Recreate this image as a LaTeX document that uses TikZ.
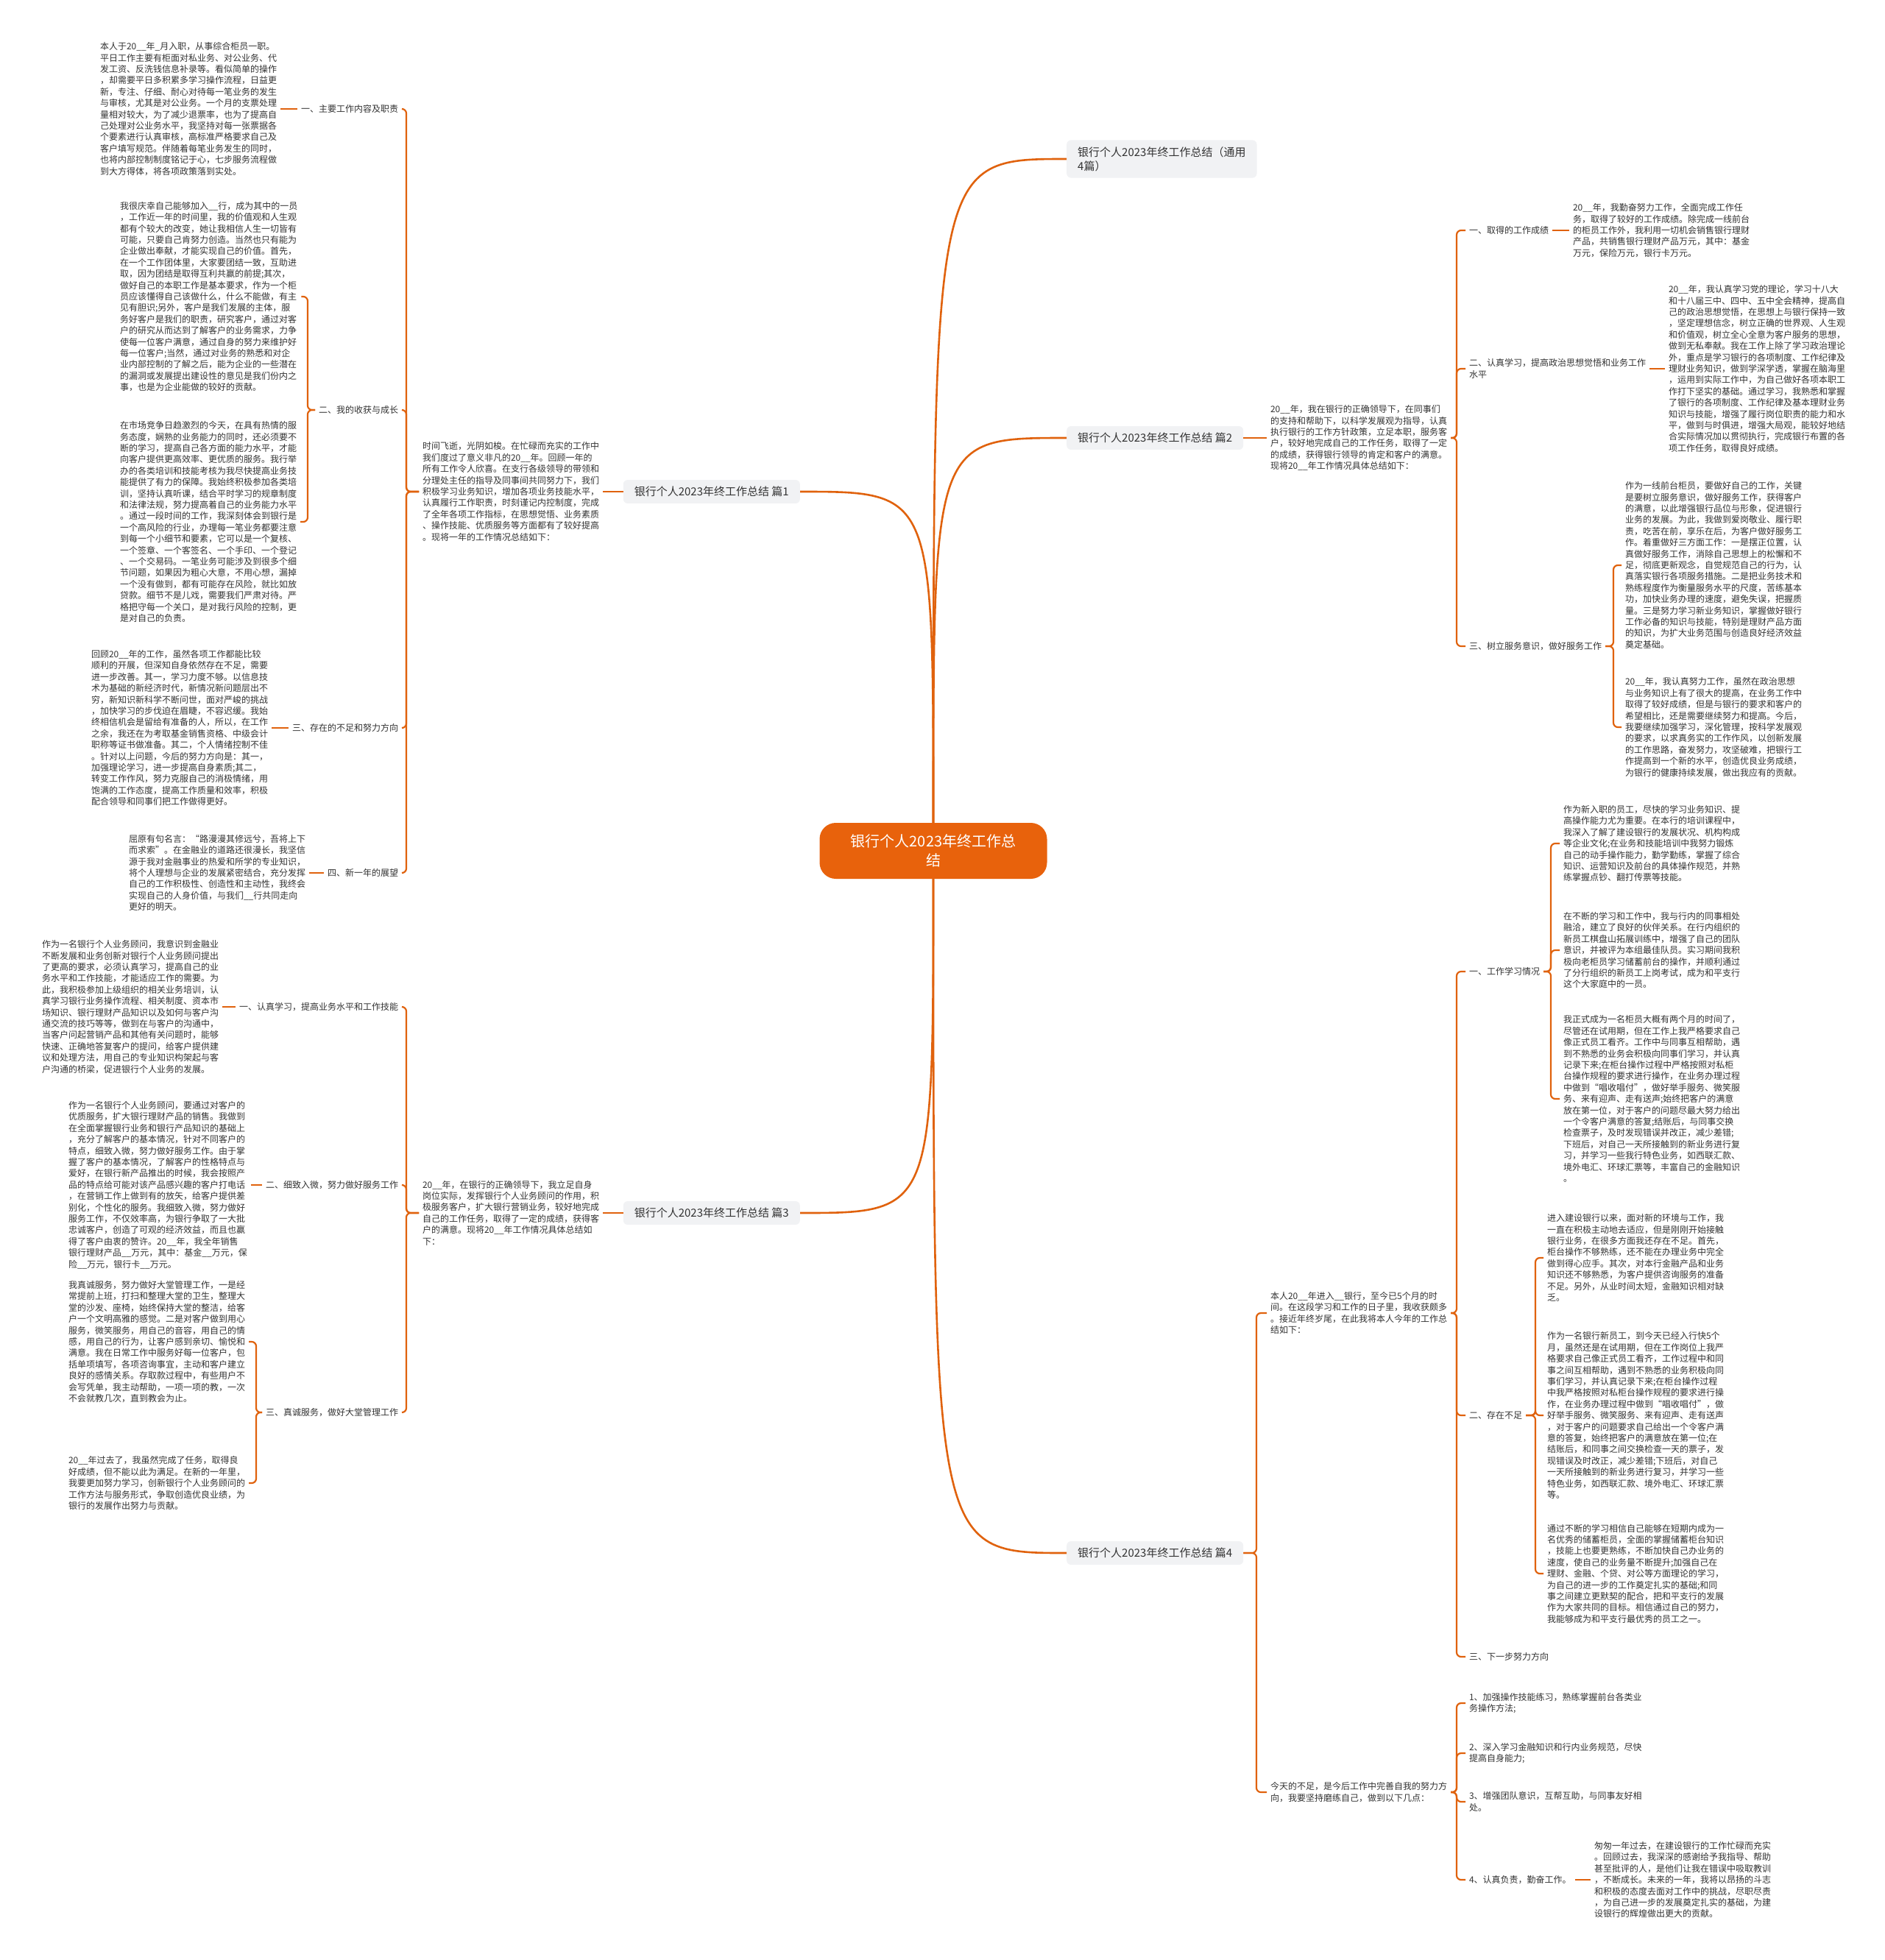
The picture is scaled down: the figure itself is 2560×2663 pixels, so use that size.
\documentclass[tikz,border=0pt]{standalone}
\usepackage{fontspec}
\setmainfont{Noto Sans CJK SC}
\definecolor{mmorange}{HTML}{E0620D}
\definecolor{mmroot}{HTML}{E8620C}
\definecolor{mmgray}{HTML}{F1F2F4}
\definecolor{mmtext}{HTML}{333333}
\begin{document}
\begin{tikzpicture}[x=1pt,y=-1pt,
  txt/.style={anchor=west,inner sep=0pt,outer xsep=5pt,align=left,text=mmtext,font=\fontsize{12}{15.4}\selectfont},
  lbl/.style={inner sep=0pt,outer xsep=5pt,align=left,text=mmtext,font=\fontsize{12}{15.4}\selectfont},
  topic/.style={fill=mmgray,rounded corners=6pt,inner xsep=15pt,inner ysep=9pt,align=left,text=mmtext,font=\fontsize{15}{19}\selectfont},
  rootbox/.style={fill=mmroot,rounded corners=22pt,minimum width=309pt,minimum height=76pt,align=center,text=white,font=\fontsize{20}{26}\selectfont},
  link/.style={draw=mmorange,line width=2.2pt,rounded corners=6pt},
  trunk/.style={draw=mmorange,line width=2.6pt}]
\fill[white] (0,0) rectangle (2560,2663);
\useasboundingbox (0,0) rectangle (2560,2663);

% centre and the five topics
\node[rootbox] (root) at (1268,1156) {银行个人2023年终工作总\\结};
\node[topic,anchor=west] (p0) at (1449,216) {银行个人2023年终工作总结（通用\\4篇）};
\node[topic,anchor=east] (p1) at (1087,668) {银行个人2023年终工作总结 篇1};
\node[topic,anchor=west] (p2) at (1449,595) {银行个人2023年终工作总结 篇2};
\node[topic,anchor=east] (p3) at (1087,1648) {银行个人2023年终工作总结 篇3};
\node[topic,anchor=west] (p4) at (1449,2110) {银行个人2023年终工作总结 篇4};

\draw[trunk] (root.north) .. controls (root.north |- p0.west) .. (p0.west);
\draw[trunk] (root.north) .. controls (root.north |- p1.east) .. (p1.east);
\draw[trunk] (root.north) .. controls (root.north |- p2.west) .. (p2.west);
\draw[trunk] (root.south) .. controls (root.south |- p3.east) .. (p3.east);
\draw[trunk] (root.south) .. controls (root.south |- p4.west) .. (p4.west);

% ---- 篇1
\node[txt] (c1) at (569,668) {时间飞逝，光阴如梭。在忙碌而充实的工作中\\
我们度过了意义非凡的20\_\_年。回顾一年的\\
所有工作令人欣喜。在支行各级领导的带领和\\
分理处主任的指导及同事间共同努力下，我们\\
积极学习业务知识，增加各项业务技能水平，\\
认真履行工作职责，时刻谨记内控制度，完成\\
了全年各项工作指标，在思想觉悟、业务素质\\
、操作技能、优质服务等方面都有了较好提高\\
。现将一年的工作情况总结如下：};
\draw[link] (p1.west) -- (c1.east);
\coordinate (s1) at (552,668);
\node[lbl,anchor=east] (l11) at (546,148) {一、主要工作内容及职责};
\node[lbl,anchor=east] (l12) at (546,557) {二、我的收获与成长};
\node[lbl,anchor=east] (l13) at (546,989) {三、存在的不足和努力方向};
\node[lbl,anchor=east] (l14) at (546,1186) {四、新一年的展望};
\draw[link] (c1.west) -- (s1) |- (l11.east);
\draw[link] (c1.west) -- (s1) |- (l12.east);
\draw[link] (c1.west) -- (s1) |- (l13.east);
\draw[link] (c1.west) -- (s1) |- (l14.east);

\node[txt] (b11) at (131,148) {本人于20\_\_年\_月入职，从事综合柜员一职。\\
平日工作主要有柜面对私业务、对公业务、代\\
发工资、反洗钱信息补录等。看似简单的操作\\
，却需要平日多积累多学习操作流程，日益更\\
新，专注、仔细、耐心对待每一笔业务的发生\\
与审核，尤其是对公业务。一个月的支票处理\\
量相对较大，为了减少退票率，也为了提高自\\
己处理对公业务水平，我坚持对每一张票据各\\
个要素进行认真审核，高标准严格要求自己及\\
客户填写规范。伴随着每笔业务发生的同时，\\
也将内部控制制度铭记于心，七步服务流程做\\
到大方得体，将各项政策落到实处。};
\draw[link] (b11.east) -- (l11.west);

\node[txt] (b12) at (158,403) {我很庆幸自己能够加入\_\_行，成为其中的一员\\
，工作近一年的时间里，我的价值观和人生观\\
都有个较大的改变，她让我相信人生一切皆有\\
可能，只要自己肯努力创造。当然也只有能为\\
企业做出奉献，才能实现自己的价值。首先，\\
在一个工作团体里，大家要团结一致，互助进\\
取，因为团结是取得互利共赢的前提;其次，\\
做好自己的本职工作是基本要求，作为一个柜\\
员应该懂得自己该做什么，什么不能做，有主\\
见有胆识;另外，客户是我们发展的主体，服\\
务好客户是我们的职责，研究客户，通过对客\\
户的研究从而达到了解客户的业务需求，力争\\
使每一位客户满意，通过自身的努力来维护好\\
每一位客户;当然，通过对业务的熟悉和对企\\
业内部控制的了解之后，能为企业的一些潜在\\
的漏洞或发展提出建设性的意见是我们份内之\\
事，也是为企业能做的较好的贡献。};
\node[txt] (b13) at (158,709) {在市场竞争日趋激烈的今天，在具有热情的服\\
务态度，娴熟的业务能力的同时，还必须要不\\
断的学习，提高自己各方面的能力水平，才能\\
向客户提供更高效率、更优质的服务。我行举\\
办的各类培训和技能考核为我尽快提高业务技\\
能提供了有力的保障。我始终积极参加各类培\\
训，坚持认真听课，结合平时学习的规章制度\\
和法律法规，努力提高着自己的业务能力水平\\
。通过一段时间的工作，我深刻体会到银行是\\
一个高风险的行业，办理每一笔业务都要注意\\
到每一个小细节和要素，它可以是一个复核、\\
一个签章、一个客签名、一个手印、一个登记\\
、一个交易码。一笔业务可能涉及到很多个细\\
节问题，如果因为粗心大意，不用心想，漏掉\\
一个没有做到，都有可能存在风险，就比如放\\
贷款。细节不是儿戏，需要我们严肃对待。严\\
格把守每一个关口，是对我行风险的控制，更\\
是对自己的负责。};
\coordinate (s12) at (418,557);
\draw[link] (l12.west) -- (s12) |- (b12.east);
\draw[link] (l12.west) -- (s12) |- (b13.east);

\node[txt] (b14) at (119,989) {回顾20\_\_年的工作，虽然各项工作都能比较\\
顺利的开展，但深知自身依然存在不足，需要\\
进一步改善。其一，学习力度不够。以信息技\\
术为基础的新经济时代，新情况新问题层出不\\
穷，新知识新科学不断问世，面对严峻的挑战\\
，加快学习的步伐迫在眉睫，不容迟缓。我始\\
终相信机会是留给有准备的人，所以，在工作\\
之余，我还在为考取基金销售资格、中级会计\\
职称等证书做准备。其二，个人情绪控制不佳\\
。针对以上问题，今后的努力方向是：其一，\\
加强理论学习，进一步提高自身素质;其二，\\
转变工作作风，努力克服自己的消极情绪，用\\
饱满的工作态度，提高工作质量和效率，积极\\
配合领导和同事们把工作做得更好。};
\draw[link] (b14.east) -- (l13.west);

\node[txt] (b15) at (170,1186) {屈原有句名言：“路漫漫其修远兮，吾将上下\\
而求索”。在金融业的道路还很漫长，我坚信\\
源于我对金融事业的热爱和所学的专业知识，\\
将个人理想与企业的发展紧密结合，充分发挥\\
自己的工作积极性、创造性和主动性，我终会\\
实现自己的人身价值，与我们\_\_行共同走向\\
更好的明天。};
\draw[link] (b15.east) -- (l14.west);

% ---- 篇3
\node[txt] (c3) at (569,1648) {20\_\_年，在银行的正确领导下，我立足自身\\
岗位实际，发挥银行个人业务顾问的作用，积\\
极服务客户，扩大银行营销业务，较好地完成\\
自己的工作任务，取得了一定的成绩，获得客\\
户的满意。现将20\_\_年工作情况具体总结如\\
下：};
\draw[link] (p3.west) -- (c3.east);
\coordinate (s3) at (552,1648);
\node[lbl,anchor=east] (l31) at (546,1368) {一、认真学习，提高业务水平和工作技能};
\node[lbl,anchor=east] (l32) at (546,1610) {二、细致入微，努力做好服务工作};
\node[lbl,anchor=east] (l33) at (546,1919) {三、真诚服务，做好大堂管理工作};
\draw[link] (c3.west) -- (s3) |- (l31.east);
\draw[link] (c3.west) -- (s3) |- (l32.east);
\draw[link] (c3.west) -- (s3) |- (l33.east);

\node[txt] (b31) at (52,1368) {作为一名银行个人业务顾问，我意识到金融业\\
不断发展和业务创新对银行个人业务顾问提出\\
了更高的要求，必须认真学习，提高自己的业\\
务水平和工作技能，才能适应工作的需要。为\\
此，我积极参加上级组织的相关业务培训，认\\
真学习银行业务操作流程、相关制度、资本市\\
场知识、银行理财产品知识以及如何与客户沟\\
通交流的技巧等等，做到在与客户的沟通中，\\
当客户问起营销产品和其他有关问题时，能够\\
快速、正确地答复客户的提问，给客户提供建\\
议和处理方法，用自己的专业知识构架起与客\\
户沟通的桥梁，促进银行个人业务的发展。};
\draw[link] (b31.east) -- (l31.west);

\node[txt] (b32) at (88,1610) {作为一名银行个人业务顾问，要通过对客户的\\
优质服务，扩大银行理财产品的销售。我做到\\
在全面掌握银行业务和银行产品知识的基础上\\
，充分了解客户的基本情况，针对不同客户的\\
特点，细致入微，努力做好服务工作。由于掌\\
握了客户的基本情况，了解客户的性格特点与\\
爱好，在银行新产品推出的时候，我会按照产\\
品的特点给可能对该产品感兴趣的客户打电话\\
，在营销工作上做到有的放矢，给客户提供差\\
别化，个性化的服务。我细致入微，努力做好\\
服务工作，不仅效率高，为银行争取了一大批\\
忠诚客户，创造了可观的经济效益，而且也赢\\
得了客户由衷的赞许。20\_\_年，我全年销售\\
银行理财产品\_\_万元，其中：基金\_\_万元，保\\
险\_\_万元，银行卡\_\_万元。};
\draw[link] (b32.east) -- (l32.west);

\node[txt] (b33) at (88,1823) {我真诚服务，努力做好大堂管理工作，一是经\\
常提前上班，打扫和整理大堂的卫生，整理大\\
堂的沙发、座椅，始终保持大堂的整洁，给客\\
户一个文明高雅的感觉。二是对客户做到用心\\
服务，微笑服务，用自己的音容，用自己的情\\
感，用自己的行为，让客户感到亲切、愉悦和\\
满意。我在日常工作中服务好每一位客户，包\\
括单项填写，各项咨询事宜，主动和客户建立\\
良好的感情关系。存取款过程中，有些用户不\\
会写凭单，我主动帮助，一项一项的教，一次\\
不会就教几次，直到教会为止。};
\node[txt] (b34) at (88,2015) {20\_\_年过去了，我虽然完成了任务，取得良\\
好成绩，但不能以此为满足。在新的一年里，\\
我要更加努力学习，创新银行个人业务顾问的\\
工作方法与服务形式，争取创造优良业绩，为\\
银行的发展作出努力与贡献。};
\coordinate (s33) at (348,1919);
\draw[link] (l33.west) -- (s33) |- (b33.east);
\draw[link] (l33.west) -- (s33) |- (b34.east);

% ---- 篇2
\node[txt] (c2) at (1721,595) {20\_\_年，我在银行的正确领导下，在同事们\\
的支持和帮助下，以科学发展观为指导，认真\\
执行银行的工作方针政策，立足本职，服务客\\
户，较好地完成自己的工作任务，取得了一定\\
的成绩，获得银行领导的肯定和客户的满意。\\
现将20\_\_年工作情况具体总结如下：};
\draw[link] (p2.east) -- (c2.west);
\coordinate (s2) at (1979,595);
\node[lbl,anchor=west] (l21) at (1991,313) {一、取得的工作成绩};
\node[lbl,anchor=west] (l22) at (1991,501) {二、认真学习，提高政治思想觉悟和业务工作\\水平};
\node[lbl,anchor=west] (l23) at (1991,878) {三、树立服务意识，做好服务工作};
\draw[link] (c2.east) -- (s2) |- (l21.west);
\draw[link] (c2.east) -- (s2) |- (l22.west);
\draw[link] (c2.east) -- (s2) |- (l23.west);

\node[txt] (b21) at (2132,313) {20\_\_年，我勤奋努力工作，全面完成工作任\\
务，取得了较好的工作成绩。除完成一线前台\\
的柜员工作外，我利用一切机会销售银行理财\\
产品，共销售银行理财产品万元，其中：基金\\
万元，保险万元，银行卡万元。};
\draw[link] (l21.east) -- (b21.west);

\node[txt] (b22) at (2262,501) {20\_\_年，我认真学习党的理论，学习十八大\\
和十八届三中、四中、五中全会精神，提高自\\
己的政治思想觉悟，在思想上与银行保持一致\\
，坚定理想信念，树立正确的世界观、人生观\\
和价值观，树立全心全意为客户服务的思想，\\
做到无私奉献。我在工作上除了学习政治理论\\
外，重点是学习银行的各项制度、工作纪律及\\
理财业务知识，做到学深学透，掌握在脑海里\\
，运用到实际工作中，为自己做好各项本职工\\
作打下坚实的基础。通过学习，我熟悉和掌握\\
了银行的各项制度、工作纪律及基本理财业务\\
知识与技能，增强了履行岗位职责的能力和水\\
平，做到与时俱进，增强大局观，能较好地结\\
合实际情况加以贯彻执行，完成银行布置的各\\
项工作任务，取得良好成绩。};
\draw[link] (l22.east) -- (b22.west);

\node[txt] (b23) at (2203,768) {作为一线前台柜员，要做好自己的工作，关键\\
是要树立服务意识，做好服务工作，获得客户\\
的满意，以此增强银行品位与形象，促进银行\\
业务的发展。为此，我做到爱岗敬业、履行职\\
责，吃苦在前，享乐在后，为客户做好服务工\\
作。着重做好三方面工作：一是摆正位置，认\\
真做好服务工作，消除自己思想上的松懈和不\\
足，彻底更新观念，自觉规范自己的行为，认\\
真落实银行各项服务措施。二是把业务技术和\\
熟练程度作为衡量服务水平的尺度，苦练基本\\
功，加快业务办理的速度，避免失误，把握质\\
量。三是努力学习新业务知识，掌握做好银行\\
工作必备的知识与技能，特别是理财产品方面\\
的知识，为扩大业务范围与创造良好经济效益\\
奠定基础。};
\node[txt] (b24) at (2203,988) {20\_\_年，我认真努力工作，虽然在政治思想\\
与业务知识上有了很大的提高，在业务工作中\\
取得了较好成绩，但是与银行的要求和客户的\\
希望相比，还是需要继续努力和提高。今后，\\
我要继续加强学习，深化管理，按科学发展观\\
的要求，以求真务实的工作作风，以创新发展\\
的工作思路，奋发努力，攻坚破难，把银行工\\
作提高到一个新的水平，创造优良业务成绩，\\
为银行的健康持续发展，做出我应有的贡献。};
\coordinate (s23) at (2192,878);
\draw[link] (l23.east) -- (s23) |- (b23.west);
\draw[link] (l23.east) -- (s23) |- (b24.west);

% ---- 篇4
\coordinate (s4) at (1707,2110);
\node[txt] (c4) at (1721,1784) {本人20\_\_年进入\_\_银行，至今已5个月的时\\
间。在这段学习和工作的日子里，我收获颇多\\
。接近年终岁尾，在此我将本人今年的工作总\\
结如下：};
\node[txt] (c5) at (1721,2435) {今天的不足，是今后工作中完善自我的努力方\\
向，我要坚持磨练自己，做到以下几点：};
\draw[link] (p4.east) -- (s4) |- (c4.west);
\draw[link] (p4.east) -- (s4) |- (c5.west);

\coordinate (s41) at (1979,1784);
\node[lbl,anchor=west] (l41) at (1991,1320) {一、工作学习情况};
\node[lbl,anchor=west] (l42) at (1991,1923) {二、存在不足};
\node[lbl,anchor=west] (l43) at (1991,2251) {三、下一步努力方向};
\draw[link] (c4.east) -- (s41) |- (l41.west);
\draw[link] (c4.east) -- (s41) |- (l42.west);
\draw[link] (c4.east) -- (s41) |- (l43.west);

\node[txt] (b41) at (2119,1146) {作为新入职的员工，尽快的学习业务知识、提\\
高操作能力尤为重要。在本行的培训课程中，\\
我深入了解了建设银行的发展状况、机构构成\\
等企业文化;在业务和技能培训中我努力锻炼\\
自己的动手操作能力，勤学勤练，掌握了综合\\
知识、运营知识及前台的具体操作规范，并熟\\
练掌握点钞、翻打传票等技能。};
\node[txt] (b42) at (2119,1291) {在不断的学习和工作中，我与行内的同事相处\\
融洽，建立了良好的伙伴关系。在行内组织的\\
新员工棋盘山拓展训练中，增强了自己的团队\\
意识，并被评为本组最佳队员。实习期间我积\\
极向老柜员学习储蓄前台的操作，并顺利通过\\
了分行组织的新员工上岗考试，成为和平支行\\
这个大家庭中的一员。};
\node[txt] (b43) at (2119,1493) {我正式成为一名柜员大概有两个月的时间了，\\
尽管还在试用期，但在工作上我严格要求自己\\
像正式员工看齐。工作中与同事互相帮助，遇\\
到不熟悉的业务会积极向同事们学习，并认真\\
记录下来;在柜台操作过程中严格按照对私柜\\
台操作规程的要求进行操作，在业务办理过程\\
中做到“唱收唱付”，做好举手服务、微笑服\\
务、来有迎声、走有送声;始终把客户的满意\\
放在第一位，对于客户的问题尽最大努力给出\\
一个令客户满意的答复;结账后，与同事交换\\
检查票子，及时发现错误并改正，减少差错;\\
下班后，对自己一天所接触到的新业务进行复\\
习，并学习一些我行特色业务，如西联汇款、\\
境外电汇、环球汇票等，丰富自己的金融知识\\
。};
\coordinate (s411) at (2107,1320);
\draw[link] (l41.east) -- (s411) |- (b41.west);
\draw[link] (l41.east) -- (s411) |- (b42.west);
\draw[link] (l41.east) -- (s411) |- (b43.west);

\node[txt] (b44) at (2097,1709) {进入建设银行以来，面对新的环境与工作，我\\
一直在积极主动地去适应，但是刚刚开始接触\\
银行业务，在很多方面我还存在不足。首先，\\
柜台操作不够熟练，还不能在办理业务中完全\\
做到得心应手。其次，对本行金融产品和业务\\
知识还不够熟悉，为客户提供咨询服务的准备\\
不足。另外，从业时间太短，金融知识相对缺\\
乏。};
\node[txt] (b45) at (2097,1923) {作为一名银行新员工，到今天已经入行快5个\\
月，虽然还是在试用期，但在工作岗位上我严\\
格要求自己像正式员工看齐，工作过程中和同\\
事之间互相帮助，遇到不熟悉的业务积极向同\\
事们学习，并认真记录下来;在柜台操作过程\\
中我严格按照对私柜台操作规程的要求进行操\\
作，在业务办理过程中做到“唱收唱付”，做\\
好举手服务、微笑服务、来有迎声、走有送声\\
，对于客户的问题要求自己给出一个令客户满\\
意的答复，始终把客户的满意放在第一位;在\\
结账后，和同事之间交换检查一天的票子，发\\
现错误及时改正，减少差错;下班后，对自己\\
一天所接触到的新业务进行复习，并学习一些\\
特色业务，如西联汇款、境外电汇、环球汇票\\
等。};
\node[txt] (b46) at (2097,2138) {通过不断的学习相信自己能够在短期内成为一\\
名优秀的储蓄柜员，全面的掌握储蓄柜台知识\\
，技能上也要更熟练，不断加快自己办业务的\\
速度，使自己的业务量不断提升;加强自己在\\
理财、金融、个贷、对公等方面理论的学习，\\
为自己的进一步的工作奠定扎实的基础;和同\\
事之间建立更默契的配合，把和平支行的发展\\
作为大家共同的目标。相信通过自己的努力，\\
我能够成为和平支行最优秀的员工之一。};
\coordinate (s42) at (2086,1923);
\draw[link] (l42.east) -- (s42) |- (b44.west);
\draw[link] (l42.east) -- (s42) |- (b45.west);
\draw[link] (l42.east) -- (s42) |- (b46.west);

\coordinate (s5) at (1979,2435);
\node[lbl,anchor=west] (i1) at (1991,2314) {1、加强操作技能练习，熟练掌握前台各类业\\务操作方法;};
\node[lbl,anchor=west] (i2) at (1991,2382) {2、深入学习金融知识和行内业务规范，尽快\\提高自身能力;};
\node[lbl,anchor=west] (i3) at (1991,2448) {3、增强团队意识，互帮互助，与同事友好相\\处。};
\node[lbl,anchor=west] (i4) at (1991,2554) {4、认真负责，勤奋工作。};
\draw[link] (c5.east) -- (s5) |- (i1.west);
\draw[link] (c5.east) -- (s5) |- (i2.west);
\draw[link] (c5.east) -- (s5) |- (i3.west);
\draw[link] (c5.east) -- (s5) |- (i4.west);

\node[txt] (b47) at (2161,2554) {匆匆一年过去，在建设银行的工作忙碌而充实\\
。回顾过去，我深深的感谢给予我指导、帮助\\
甚至批评的人，是他们让我在错误中吸取教训\\
，不断成长。未来的一年，我将以昂扬的斗志\\
和积极的态度去面对工作中的挑战，尽职尽责\\
，为自己进一步的发展奠定扎实的基础，为建\\
设银行的辉煌做出更大的贡献。};
\draw[link] (i4.east) -- (b47.west);
\end{tikzpicture}
\end{document}
